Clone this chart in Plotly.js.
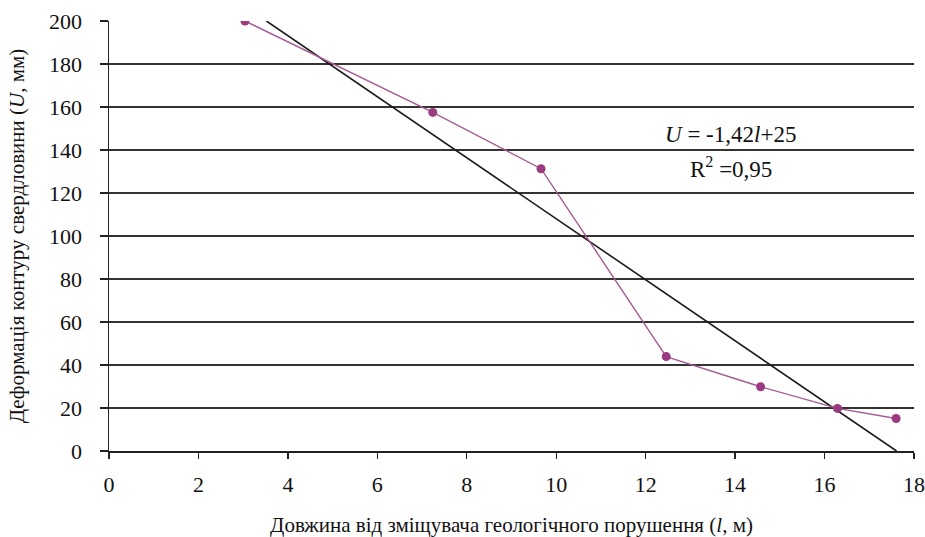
<!DOCTYPE html>
<html><head><meta charset="utf-8">
<script src="https://cdn.plot.ly/plotly-3.0.1.min.js"></script>
<style>
html,body{margin:0;padding:0;background:#fff;font-family:'Liberation Serif',serif}
#chart{width:925px;height:537px}
#chart text{font-family:'Liberation Serif',serif !important}
</style>
</head><body><div id="chart"></div>
<script>
var lengthM = [3.04, 7.24, 9.66, 12.46, 14.57, 16.29, 17.6];
var deformMM = [200, 157.5, 131.3, 43.9, 29.9, 19.8, 15.1];
var trendX = [3.52, 17.61];
var trendY = [200, 0];
var xTicks = [0, 2, 4, 6, 8, 10, 12, 14, 16, 18];
var yTicks = [0, 20, 40, 60, 80, 100, 120, 140, 160, 180, 200];
var eqText = '<i>U</i> = -1,42<i>l</i>+25';
var r2Text = 'R<sup>2</sup> =0,95';

var fam = 'Liberation Serif';
function draw() {
  var traces = [
    {x: trendX, y: trendY, mode: 'lines', line: {color: '#1a1a1a', width: 1.6}, hoverinfo: 'skip', showlegend: false},
    {x: lengthM, y: deformMM, mode: 'lines+markers', line: {color: '#a65a93', width: 1.4},
     marker: {color: '#9b3a80', size: 9}, showlegend: false}
  ];
  var layout = {
    width: 925, height: 537,
    margin: {l: 109, r: 11, t: 21, b: 86},
    paper_bgcolor: '#fff', plot_bgcolor: '#fff',
    font: {family: fam, color: '#111', size: 22},
    xaxis: {range: [0, 18], tickvals: xTicks, ticks: 'outside', ticklen: 6, tickcolor: '#222', tickwidth: 1.3,
      showline: true, linecolor: '#222', linewidth: 1.5, showgrid: false, zeroline: false,
      tickfont: {size: 22, family: fam, color: '#111'}, ticklabelstandoff: 7,
      title: {text: 'Довжина від зміщувача геологічного порушення (<i>l</i>, м)', font: {size: 21, family: fam, color: '#111'}, standoff: 24}},
    yaxis: {range: [0, 200], tickvals: yTicks, ticks: 'outside', ticklen: 8, tickcolor: '#222', tickwidth: 1.3,
      showline: true, linecolor: '#222', linewidth: 1.5, showgrid: true, gridcolor: '#333', gridwidth: 1.6,
      zeroline: false, tickfont: {size: 22, family: fam, color: '#111'}, ticklabelstandoff: 13,
      title: {text: 'Деформація контуру свердловини (<i>U</i>, мм)', font: {size: 21, family: fam, color: '#111'}, standoff: 18}},
    annotations: [
      {x: 13.9, y: 147, xref: 'x', yref: 'y', text: eqText, showarrow: false, font: {size: 23, family: fam, color: '#111'}},
      {x: 13.9, y: 132, xref: 'x', yref: 'y', text: r2Text, showarrow: false, font: {size: 23, family: fam, color: '#111'}}
    ]
  };
  Plotly.newPlot('chart', traces, layout, {displayModeBar: false, staticPlot: true});
}
if (document.fonts && document.fonts.load) {
  Promise.all([
    document.fonts.load('22px "Liberation Serif"', 'Деформація 0123'),
    document.fonts.load('italic 22px "Liberation Serif"', 'Ul')
  ]).then(draw, draw);
} else {
  draw();
}
</script></body></html>
